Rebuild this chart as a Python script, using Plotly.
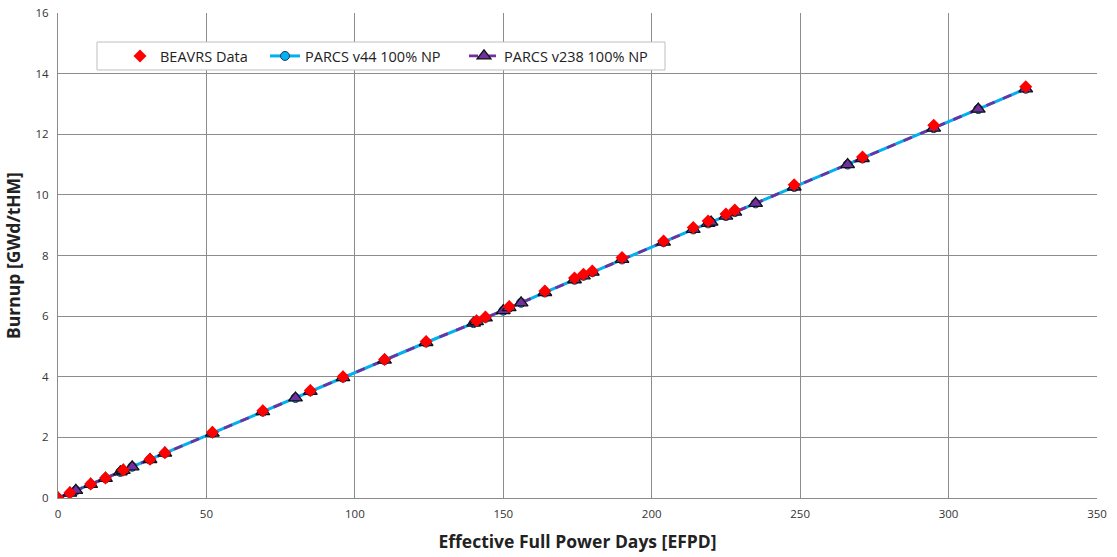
import plotly.graph_objects as go

# BEAVRS measured data
beavrs_efpd = [0, 4, 11, 16, 22, 31, 36, 52, 69, 85, 96, 110, 124, 141, 144, 152, 164,
               174, 177, 180, 190, 204, 214, 219, 225, 228, 248, 271, 295, 326]
beavrs_bu = [0, 0.17, 0.46, 0.66, 0.92, 1.28, 1.49, 2.17, 2.88, 3.55, 4.0, 4.57, 5.16,
             5.85, 5.97, 6.32, 6.83, 7.26, 7.38, 7.49, 7.93, 8.48, 8.92, 9.14, 9.37, 9.5,
             10.33, 11.25, 12.3, 13.57]

# PARCS results
parcs_efpd = [0, 4, 6, 11, 16, 21, 22, 25, 31, 36, 52, 69, 80, 85, 96, 110, 124, 140, 141,
              144, 150, 152, 156, 164, 174, 177, 180, 190, 204, 214, 219, 220, 225, 228,
              235, 248, 266, 271, 295, 310, 326]
parcs_v44_bu = [0, 0.16, 0.25, 0.45, 0.65, 0.86, 0.91, 1.03, 1.27, 1.48, 2.14, 2.85, 3.3,
                3.52, 3.97, 4.55, 5.13, 5.77, 5.82, 5.94, 6.18, 6.28, 6.44, 6.78, 7.2, 7.33,
                7.45, 7.87, 8.44, 8.86, 9.06, 9.1, 9.3, 9.43, 9.72, 10.26, 11.0, 11.2,
                12.2, 12.83, 13.5]
parcs_v238_bu = list(parcs_v44_bu)

x_ticks = [0, 50, 100, 150, 200, 250, 300, 350]
y_ticks = [0, 2, 4, 6, 8, 10, 12, 14, 16]

font_family = "Open Sans, Liberation Sans, sans-serif"

fig = go.Figure()
fig.add_trace(go.Scatter(
    x=parcs_efpd, y=parcs_v44_bu, name="PARCS v44 100% NP", mode="lines+markers",
    line=dict(color="#00B0F0", width=3),
    marker=dict(symbol="circle", size=9, color="#00B0F0", line=dict(color="#1f3864", width=1)),
    legend="legend2"))
fig.add_trace(go.Scatter(
    x=parcs_efpd, y=parcs_v238_bu, name="PARCS v238 100% NP", mode="lines+markers",
    line=dict(color="#7030A0", width=2.8, dash="dash"),
    marker=dict(symbol="triangle-up", size=12, color="#7030A0", line=dict(color="#111111", width=1.3)),
    legend="legend3"))
fig.add_trace(go.Scatter(
    x=beavrs_efpd, y=beavrs_bu, name="BEAVRS Data", mode="markers",
    marker=dict(symbol="diamond", size=10, color="#FF0000", line=dict(width=0)),
    legend="legend"))

axis_common = dict(
    showgrid=True, gridcolor="#8c8c8c", gridwidth=1,
    showline=True, linecolor="#8c8c8c", linewidth=1,
    zeroline=False, ticks="", automargin=False,
    tickfont=dict(size=11.5, color="#333333", family=font_family),
)

def px_x(p):
    return (p - 58) / 1039.0

def px_y(p):
    return (498 - p) / 485.0

leg_common = dict(orientation="h", xanchor="left", yanchor="middle", y=px_y(56),
                  bgcolor="rgba(0,0,0,0)", borderwidth=0, itemwidth=30,
                  font=dict(size=14.5, color="#222222", family=font_family))

fig.update_layout(
    width=1117, height=557,
    margin=dict(l=58, r=20, t=13, b=59),
    paper_bgcolor="white", plot_bgcolor="white",
    font=dict(family=font_family),
    xaxis=dict(range=[0, 350], tickvals=x_ticks, ticklabelstandoff=5,
               title=dict(text="<b>Effective Full Power Days [EFPD]</b>",
                          font=dict(size=17.5, color="#222222"), standoff=15),
               **axis_common),
    yaxis=dict(range=[0, 16], tickvals=y_ticks, ticklabelstandoff=6,
               title=dict(text="<b>Burnup [GWd/tHM]</b>",
                          font=dict(size=17.5, color="#222222"), standoff=10),
               **axis_common),
    legend=dict(x=px_x(120), **leg_common),
    legend2=dict(x=px_x(265), **leg_common),
    legend3=dict(x=px_x(464), **leg_common),
    showlegend=True,
    shapes=[dict(type="rect", xref="paper", yref="paper",
                 x0=px_x(97), x1=px_x(665), y0=px_y(70), y1=px_y(42),
                 fillcolor="white", line=dict(color="#bfbfbf", width=1), layer="above")],
)

fig.write_html("out.html")
